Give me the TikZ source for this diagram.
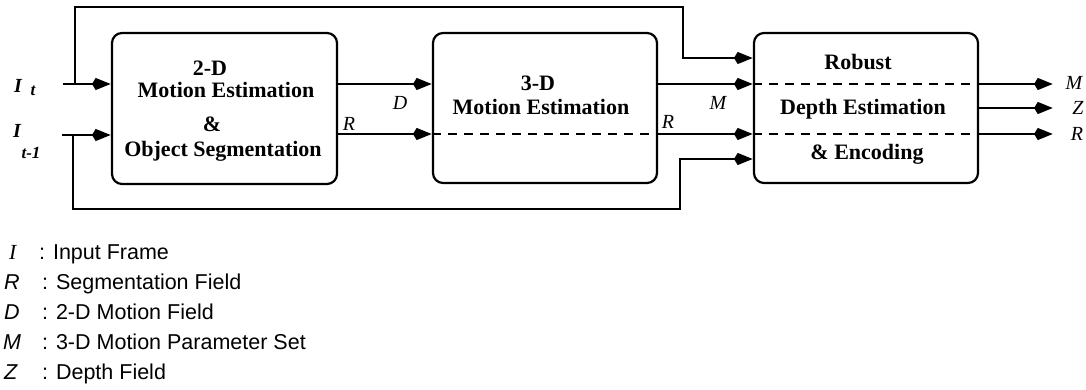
\documentclass[tikz,border=0pt]{standalone}
\usepackage{fontspec}
\setmainfont{Liberation Serif}
\setsansfont{Liberation Sans}
\usetikzlibrary{arrows.meta}
\begin{document}
\begin{tikzpicture}[x=1pt,y=-1pt,line width=2.2pt,
  blk/.style={draw, rounded corners=10pt, minimum width=224pt, minimum height=150pt, inner sep=0pt},
  btxt/.style={font=\fontsize{22}{26}\selectfont\bfseries, anchor=base, inner sep=0pt},
  lbl/.style={font=\fontsize{20}{24}\selectfont\itshape, inner sep=0pt},
  ilbl/.style={font=\fontsize{20}{24}\selectfont\bfseries\itshape, inner sep=0pt},
  arr/.style={-{Stealth[length=15pt,width=11pt,inset=-4pt]}},
  dsh/.style={dash pattern=on 9pt off 7pt},
  lgl/.style={font=\fontsize{21.5}{25}\selectfont\sffamily\itshape, anchor=base west, inner sep=0pt},
  lgt/.style={font=\fontsize{21.5}{25}\selectfont\sffamily, anchor=base west, inner sep=0pt}]
\useasboundingbox (0,0) rectangle (1086,390);
% boxes
\node[blk, minimum width=225pt, minimum height=151pt] (b1) at (224.5,108.5) {};
\node[blk] (b2) at (545,108) {};
\node[blk] (b3) at (866,108) {};
% box texts
\node[btxt] (t1a) at (210,76) {2-D};
\node[btxt] (t1b) at (226,97.5) {Motion Estimation};
\node[btxt] (t1c) at (212,131.5) {\&};
\node[btxt] (t1d) at (223,156.5) {Object Segmentation};
\node[btxt] (t2a) at (538,91) {3-D};
\node[btxt] (t2b) at (541,115) {Motion Estimation};
\node[btxt] (t3a) at (858,70) {Robust};
\node[btxt] (t3b) at (863,115) {Depth Estimation};
\node[btxt] (t3c) at (867,160) {\& Encoding};
% levels
\coordinate (yD) at (0,84);
\coordinate (yR) at (0,134);
\coordinate (yZ) at (0,108);
\coordinate (oend) at (1053,0);
% inputs
\coordinate (s1) at (63,84);
\coordinate (s2) at (62,135);
\draw[arr] (s1) -- (s1 -| b1.west);
\draw[arr] (s2) -- (s2 -| b1.west);
% top loop
\coordinate (tl0) at (75,84);
\coordinate (tl1) at (75,7);
\coordinate (tl2) at (683,7);
\coordinate (tl3) at (683,58);
\draw[arr] (tl0) -- (tl1) -- (tl2) -- (tl3) -- (tl3 -| b3.west);
% bottom loop
\coordinate (bl0) at (73,135);
\coordinate (bl1) at (73,209);
\coordinate (bl2) at (680,209);
\coordinate (bl3) at (680,159);
\draw[arr] (bl0) -- (bl1) -- (bl2) -- (bl3) -- (bl3 -| b3.west);
% D and R between box1 and box2
\draw[arr] (b1.east |- yD) -- (b2.west |- yD);
\draw[arr] (b1.east |- yR) -- (b2.west |- yR);
\draw[dsh] (b2.west |- yR) -- (b2.east |- yR);
% M and R between box2 and box3
\draw[arr] (b2.east |- yD) -- (b3.west |- yD);
\draw[arr] (b2.east |- yR) -- (b3.west |- yR);
\draw[dsh] (b3.west |- yD) -- (b3.east |- yD);
\draw[dsh] (b3.west |- yR) -- (b3.east |- yR);
% outputs
\draw[arr] (b3.east |- yD) -- (oend |- yD);
\draw[arr] (b3.east |- yZ) -- (oend |- yZ);
\draw[arr] (b3.east |- yR) -- (oend |- yR);
% labels
\node[ilbl] (iI1) at (18,86) {I};
\node[ilbl, font=\fontsize{17}{20}\selectfont\bfseries\itshape] (iT1) at (33,91) {t};
\node[ilbl] (iI2) at (17,131) {I};
\node[ilbl, font=\fontsize{17}{20}\selectfont\bfseries\itshape] (iT2) at (31,153) {t-1};
\node[lbl] (lD) at (400,103) {D};
\node[lbl] (lR1) at (349,124) {R};
\node[lbl] (lM) at (718,103) {M};
\node[lbl] (lR2) at (668,122) {R};
\node[lbl] (oM) at (1074,83) {M};
\node[lbl] (oZ) at (1078,108) {Z};
\node[lbl] (oR) at (1077,134) {R};
% legend
\node[anchor=base west, inner sep=0pt, font=\fontsize{21.5}{25}\selectfont\itshape] (gI) at (8,259) {I};
\node[lgt] (gIt) at (38,259) {: Input Frame};
\node[lgl] (gR) at (3,289) {R};
\node[lgt] (gRt) at (41,289) {: Segmentation Field};
\node[lgl] (gD) at (3,319) {D};
\node[lgt] (gDt) at (41,319) {: 2-D Motion Field};
\node[lgl] (gM) at (2,349) {M};
\node[lgt] (gMt) at (41,349) {: 3-D Motion Parameter Set};
\node[lgl] (gZ) at (3,379) {Z};
\node[lgt] (gZt) at (41,379) {: Depth Field};
\end{tikzpicture}
\end{document}
